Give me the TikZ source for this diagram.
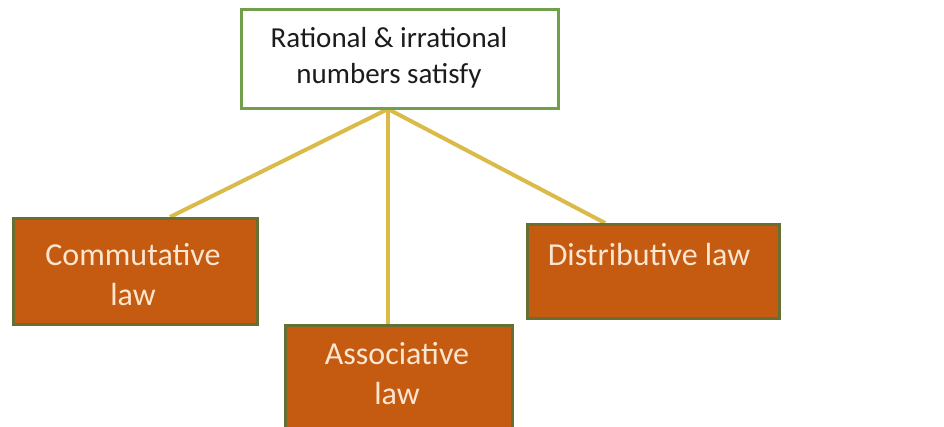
\documentclass[tikz,border=0pt]{standalone}
\usepackage{fontspec}
\setmainfont{Carlito}
\usetikzlibrary{backgrounds}
\definecolor{topgreen}{RGB}{114,160,74}
\definecolor{lawfill}{RGB}{197,90,17}
\definecolor{lawborder}{RGB}{100,112,52}
\definecolor{lawtextc}{RGB}{252,230,208}
\definecolor{linkc}{RGB}{218,186,72}
\definecolor{toptextc}{RGB}{28,28,28}
\tikzset{
  topbox/.style={draw=topgreen, line width=3pt, fill=white, rectangle, inner sep=0pt, anchor=north west},
  lawbox/.style={draw=lawborder, line width=3pt, fill=lawfill, rectangle, inner sep=0pt, anchor=north west},
  toptext/.style={font=\fontsize{29}{36}\selectfont, text=toptextc, align=center, inner sep=0pt, anchor=north},
  lawtext/.style={font=\fontsize{32}{40}\selectfont, text=lawtextc, align=center, inner sep=0pt, anchor=north},
  link/.style={draw=linkc, line width=4pt}
}
\begin{document}
\begin{tikzpicture}[x=1pt, y=-1pt]
\useasboundingbox (0,0) rectangle (944,427);
% top box
\node[topbox, minimum width=317pt, minimum height=99pt] (top) at (240,8) {};
\node[toptext] (toptxt) at (389,27) {Rational \& irrational\\numbers satisfy};
% law boxes
\node[lawbox, minimum width=244pt, minimum height=106pt] (comm) at (12,217) {};
\node[lawtext] (commtxt) at (133,243) {Commutative\\law};
\node[lawbox, minimum width=227pt, minimum height=110pt] (assoc) at (284,324) {};
\node[lawtext] (assoctxt) at (397,342) {Associative\\law};
\node[lawbox, minimum width=252pt, minimum height=94pt] (dist) at (526,223) {};
\node[lawtext] (disttxt) at (649,243) {Distributive law};
% connectors
\coordinate (hub) at (388,109);
\begin{scope}[on background layer]
\draw[link] (hub) -- (comm.north -| 170,0);
\draw[link] (hub) -- (assoc.north -| 388,0);
\draw[link] (hub) -- (dist.north -| 605,0);
\end{scope}
\end{tikzpicture}
\end{document}
